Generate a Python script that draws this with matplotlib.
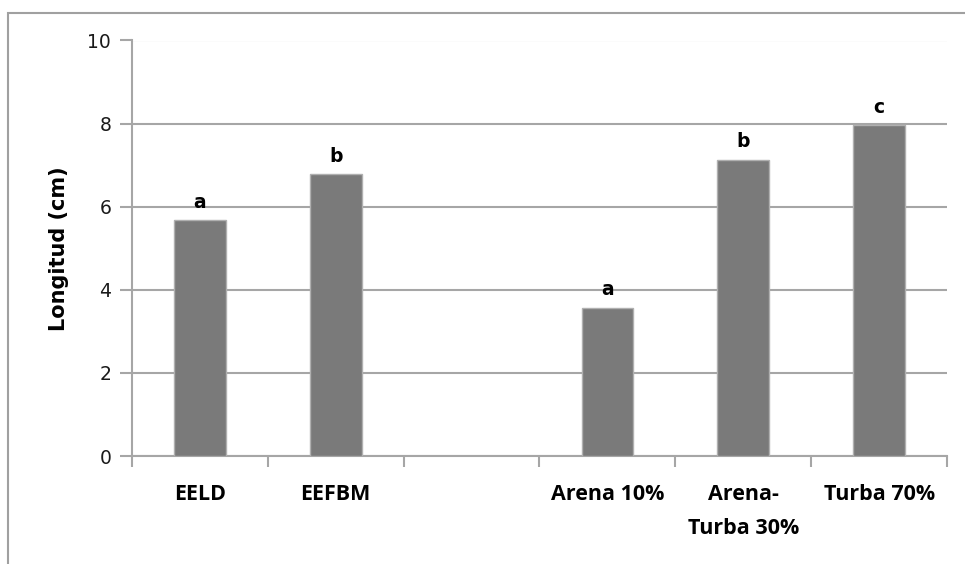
import matplotlib
matplotlib.use("Agg")
import matplotlib.pyplot as plt
from matplotlib.patches import Rectangle

categories = ["EELD", "EEFBM", "", "Arena 10%", "Arena-\nTurba 30%", "Turba 70%"]
values = [5.68, 6.78, None, 3.57, 7.13, 7.97]
letters = ["a", "b", "", "a", "b", "c"]
yticks = [0, 2, 4, 6, 8, 10]

bar_color = "#7a7a7a"
edge_color = "#b0b0b0"
grid_color = "#a6a6a6"

fig = plt.figure(figsize=(9.65, 5.64), dpi=100)
fig.patches.append(Rectangle((8/965, -0.1), 2.0, 1 - 13/564 + 0.1, transform=fig.transFigure,
                             fill=False, edgecolor="#a0a0a0", linewidth=1.5, figure=fig))

ax = fig.add_axes([132/965, (564-456)/564, (947-132)/965, (456-40.5)/564])

xs = [i for i, v in enumerate(values) if v is not None]
vs = [v for v in values if v is not None]
ax.bar(xs, vs, width=0.38, color=bar_color, edgecolor=edge_color, linewidth=1.0, zorder=3)

for i, (v, l) in enumerate(zip(values, letters)):
    if v is None:
        continue
    ax.text(i, v + 0.2, l, ha="center", va="bottom", fontsize=13.5, fontweight="bold",
            family="DejaVu Sans", zorder=4)

ax.set_xlim(-0.5, len(categories) - 0.5)
ax.set_ylim(0, 10)
ax.set_yticks(yticks)
ax.set_yticklabels([str(t) for t in yticks], fontsize=13.5, family="DejaVu Sans", color="#1a1a1a")
ax.yaxis.grid(True, color=grid_color, linewidth=1.5, zorder=0)
ax.set_axisbelow(True)

ax.set_xticks(range(len(categories)))
ax.set_xticklabels(categories, fontsize=15.5, fontweight="bold", family="Open Sans", va="top",
                   linespacing=1.8)
ax.set_xticks([i - 0.5 for i in range(len(categories) + 1)], minor=True)
ax.tick_params(axis="x", which="major", length=0, pad=20)
ax.tick_params(axis="x", which="minor", length=8, width=1.5, color=grid_color, direction="out")
ax.tick_params(axis="y", length=9, width=1.5, color=grid_color, pad=6)

for s in ["top", "right"]:
    ax.spines[s].set_visible(False)
for s in ["left", "bottom"]:
    ax.spines[s].set_color(grid_color)
    ax.spines[s].set_linewidth(1.5)

ax.set_ylabel("Longitud (cm)", fontsize=15, fontweight="bold", family="DejaVu Sans", labelpad=13)

fig.savefig("out.png", dpi=100)
